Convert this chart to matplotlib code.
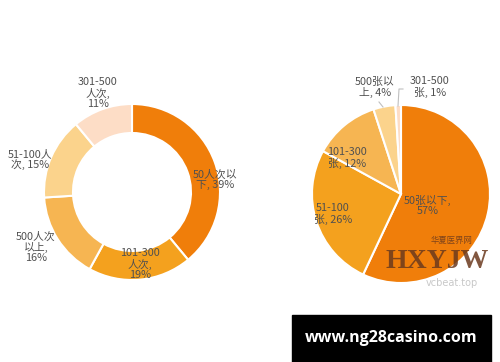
import matplotlib.pyplot as plt

plt.rcParams["font.family"] = ["Noto Sans CJK SC", "DejaVu Sans"]

# left donut: visits per event
visit_labels = ["50人次以\n下, 39%", "101-300\n人次,\n19%", "500人次\n以上,\n16%", "51-100人\n次, 15%", "301-500\n人次,\n11%"]
visit_share = [39, 19, 16, 15, 11]

# right pie: tickets per event
ticket_labels = ["50张以下,\n57%", "51-100\n张, 26%", "101-300\n张, 12%", "500张以\n上, 4%", "301-500\n张, 1%"]
ticket_share = [57, 26, 12, 4, 1]

COLORS = ["#F07E0A", "#F4A11E", "#F6B552", "#FBD38C", "#FDDDC6"]
TEXT = "#505050"
W, H = 500, 362


def py(y):
    """pixel row (top-down) -> data y (bottom-up)"""
    return H - y


fig = plt.figure(figsize=(5, 3.62), dpi=100)
ax = fig.add_axes([0, 0, 1, 1])

wedge_kw = dict(edgecolor="white", linewidth=1.5)

ax.pie(visit_share, colors=COLORS, startangle=90, counterclock=False,
       center=(132, py(192)), radius=88, frame=True,
       wedgeprops=dict(width=29, **wedge_kw))
ax.pie(ticket_share, colors=COLORS, startangle=90, counterclock=False,
       center=(401, py(194)), radius=89, frame=True,
       wedgeprops=wedge_kw)
ax.set_xlim(0, W)
ax.set_ylim(0, H)
ax.set_aspect("equal")
ax.axis("off")

visit_pos = [(215, 180), (140, 264), (36, 247), (30, 160), (98, 93)]
for lab, (x, y) in zip(visit_labels, visit_pos):
    ax.text(x, py(y), lab, ha="center", va="center", fontsize=7.8,
            color=TEXT, linespacing=1.0)

ticket_pos = [(428, 205), (333, 214), (347, 158), (375, 87), (430, 87)]
for lab, (x, y) in zip(ticket_labels, ticket_pos):
    ax.text(x, py(y), lab, ha="center", va="center", fontsize=7.8,
            color=TEXT, linespacing=1.0)

# leader lines for the two small slices
ax.plot([379, 383], [py(102), py(107)], color="#BFBFBF", linewidth=0.8)
ax.plot([403, 399, 398], [py(89), py(89), py(106)], color="#BFBFBF", linewidth=0.8)

# watermark
ax.text(437, py(261), "HXYJW", ha="center", va="center", fontsize=20,
        family="Liberation Serif", fontweight="bold", color="#6B3A1E", alpha=0.85)
ax.text(452, py(240), "华夏医界网", ha="center", va="center", fontsize=6,
        color="#6B3A1E", alpha=0.85)
ax.text(452, py(283), "vcbeat.top", ha="center", va="center", fontsize=7,
        color="#C8C8C8", family="DejaVu Sans")

# banner
ax.add_patch(plt.Rectangle((292, 0), 199, H - 315, color="black"))
ax.text(391, py(338), "www.ng28casino.com", ha="center", va="center",
        fontsize=11.5, fontweight="bold", color="white", family="Open Sans")

fig.savefig("out.png", dpi=100)
